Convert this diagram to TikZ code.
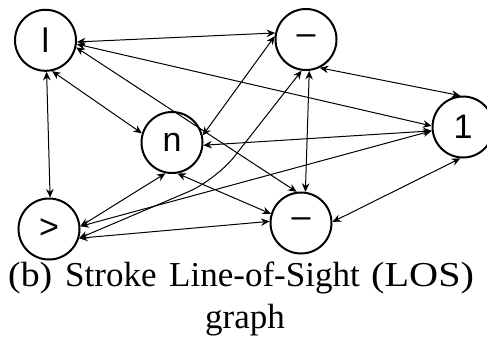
\documentclass[tikz,border=0pt]{standalone}
\usepackage{fontspec}
\setmainfont{Liberation Serif}
\newfontfamily\lblfont{Liberation Sans}
\usetikzlibrary{arrows.meta}
\begin{document}
\begin{tikzpicture}[x=1pt,y=-1pt,
  vtx/.style={circle,draw,line width=2pt,minimum size=61pt,inner sep=0pt,font=\lblfont\fontsize{34}{34}\selectfont},
  edge/.style={line width=1pt,{Stealth[length=8.5pt,width=7.5pt]}-{Stealth[length=8.5pt,width=7.5pt]}},
  captext/.style={inner sep=0pt,anchor=base west,font=\fontsize{35}{42}\selectfont}]
\useasboundingbox (0,0) rectangle (487,341);
\node[vtx] (L) at (45.5,40.3) {l};
\node[vtx] (T) at (306,39.5) {–};
\node[vtx] (N) at (172,142.5) {n};
\node[vtx] (O) at (463,127) {1};
\node[vtx] (G) at (49,229) {>};
\node[vtx] (B) at (301,223) {–};
\coordinate (bend) at (216,180);

\draw[edge] (L.357) -- (T.168);
\draw[edge] (L.353) -- (O.178);
\draw[edge] (L.347) -- (B.98);
\draw[edge] (L.282) -- (N.163);
\draw[edge] (L.272) -- (G.88);
\draw[edge] (T.174) -- (N.13);
\draw[edge,rounded corners=30pt] (T.262) -- (bend) -- (G.343);
\draw[edge] (T.276) -- (B.82);
\draw[edge] (T.296) -- (O.95);
\draw[edge] (N.355) -- (O.187);
\draw[edge] (N.258) -- (G.5);
\draw[edge] (N.280) -- (B.163);
\draw[edge] (O.187) -- (G.5);
\draw[edge] (O.265) -- (B.2);
\draw[edge] (G.343) -- (B.177);

\node[captext] (w1) at (8,286) {\scalebox{1.08}[1]{(b)}};
\node[captext] (w2) at (65,286) {Stroke};
\node[captext] (w3) at (169,286) {Line-of-Sight};
\node[captext] (w4) at (371,286) {\scalebox{1.15}[1]{(LOS)}};
\node[captext,anchor=base] (cap2) at (245,328) {graph};
\end{tikzpicture}
\end{document}
